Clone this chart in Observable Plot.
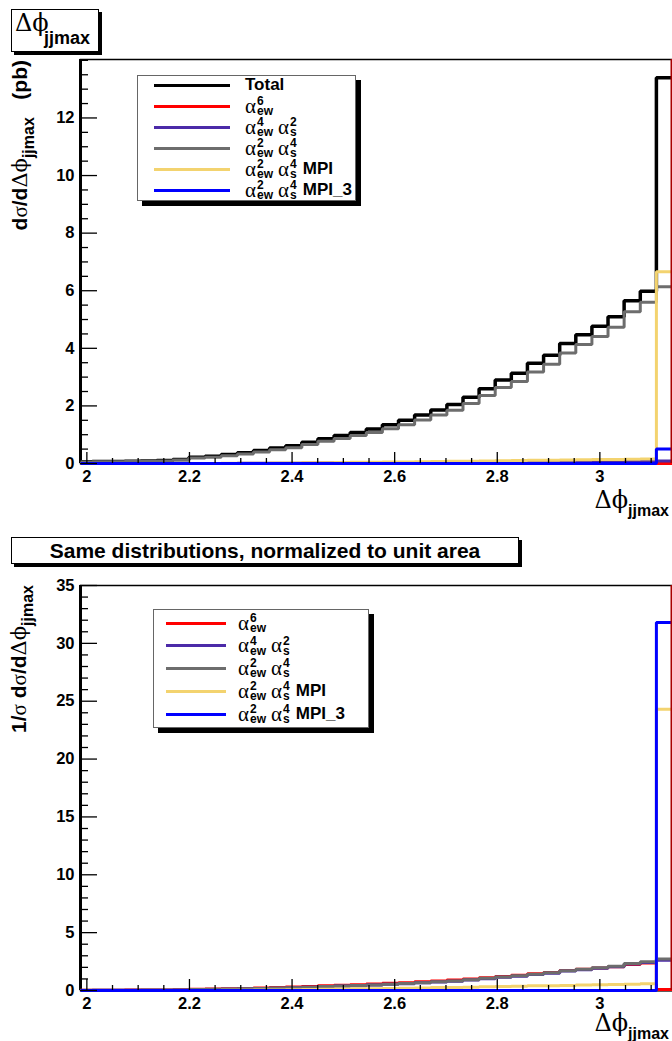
<!DOCTYPE html>
<html><head><meta charset="utf-8">
<script src="https://cdn.jsdelivr.net/npm/d3@7"></script>
<script src="https://cdn.jsdelivr.net/npm/@observablehq/plot@0.6"></script>
<style>
body{margin:0;background:#fff;}
#wrap{position:relative;width:672px;height:1041px;overflow:hidden;font-family:"Liberation Sans",Arial,sans-serif;font-weight:bold;color:#000;}
.abs{position:absolute;}
.box{position:absolute;background:#fff;border:1px solid #000;}
.g{font-family:"DejaVu Serif","Liberation Serif",serif;font-weight:normal;}
.ga{font-family:"Liberation Serif","DejaVu Serif",serif;font-weight:normal;}
.ss{display:inline-flex;flex-direction:column;align-items:flex-start;font-size:12px;line-height:10px;font-weight:bold;margin-left:1px;}
.row{position:absolute;display:flex;align-items:center;height:24px;white-space:nowrap;}
.sw{display:inline-block;height:3px;}
.alpha{font-size:21px;line-height:1;}
.ytitle{position:absolute;transform-origin:0 0;transform:rotate(-90deg);white-space:nowrap;text-align:right;}
</style></head>
<body><div id="wrap">
<div id="top" class="abs" style="left:0;top:0"></div>
<div id="bot" class="abs" style="left:0;top:530px"></div>
</div>
<script>
// ---- data ----
const xDomain = [1.9876, Math.PI];
const binEdges = [1.9792,2.0106,2.0420,2.0735,2.1049,2.1363,2.1677,2.1991,2.2305,2.2619,2.2934,2.3248,2.3562,2.3876,2.4190,2.4504,2.4819,2.5133,2.5447,2.5761,2.6075,2.6389,2.6704,2.7018,2.7332,2.7646,2.7960,2.8274,2.8588,2.8903,2.9217,2.9531,2.9845,3.0159,3.0473,3.0788,3.1102,3.1416];
const xTicks = [2, 2.2, 2.4, 2.6, 2.8, 3];
const xMinor = [2.05,2.1,2.15,2.25,2.3,2.35,2.45,2.5,2.55,2.65,2.7,2.75,2.85,2.9,2.95,3.05,3.1];
const topYTicks = [0,2,4,6,8,10,12];
const topYMinor = [0.5,1,1.5,2.5,3,3.5,4.5,5,5.5,6.5,7,7.5,8.5,9,9.5,10.5,11,11.5,12.5,13,13.5,14];
const botYTicks = [0,5,10,15,20,25,30,35];
const botYMinor = [1,2,3,4,6,7,8,9,11,12,13,14,16,17,18,19,21,22,23,24,26,27,28,29,31,32,33,34];

const seriesNames = ["Total","α_ew^6","α_ew^4 α_s^2","α_ew^2 α_s^4","α_ew^2 α_s^4 MPI","α_ew^2 α_s^4 MPI_3"];
const seriesColors = ["#000000","#ff0000","#4b2aa8","#6d6d6d","#f3d36f","#0000ff"];
const legendTerms = [[],[["6","ew"]],[["4","ew"],["2","s"]],[["2","ew"],["4","s"]],[["2","ew"],["4","s"]],[["2","ew"],["4","s"]]];
const legendSuffix = ["Total","","","","MPI","MPI_3"];

// top panel: dσ/dΔφ (pb)
const topTotal  = [0.06,0.07,0.07,0.08,0.09,0.10,0.14,0.22,0.25,0.31,0.37,0.45,0.54,0.62,0.74,0.86,0.97,1.08,1.20,1.35,1.50,1.68,1.86,2.05,2.30,2.60,2.90,3.13,3.48,3.76,4.17,4.47,4.77,5.10,5.65,5.98,13.40];
const topEw6    = [0,0,0,0,0,0,0,0.001,0.001,0.002,0.002,0.003,0.003,0.004,0.005,0.005,0.006,0.007,0.008,0.009,0.01,0.011,0.012,0.013,0.015,0.016,0.018,0.019,0.021,0.022,0.024,0.026,0.028,0.03,0.032,0.033,0.002];
const topEw4S2  = [0,0,0,0,0,0,0.001,0.002,0.003,0.004,0.005,0.006,0.008,0.01,0.012,0.014,0.016,0.018,0.02,0.023,0.026,0.029,0.032,0.035,0.039,0.043,0.047,0.05,0.055,0.06,0.064,0.068,0.072,0.077,0.082,0.086,0.09];
const topEw2S4  = [0.05,0.06,0.06,0.07,0.08,0.09,0.12,0.19,0.22,0.27,0.33,0.40,0.48,0.55,0.66,0.77,0.87,0.97,1.08,1.21,1.35,1.51,1.68,1.85,2.08,2.36,2.64,2.85,3.18,3.45,3.84,4.13,4.41,4.73,5.27,5.60,6.14];
const topMPI    = [0,0,0,0,0,0,0,0,0.003,0.005,0.008,0.01,0.015,0.02,0.025,0.03,0.035,0.04,0.045,0.05,0.055,0.06,0.07,0.075,0.08,0.09,0.095,0.10,0.11,0.115,0.12,0.13,0.135,0.14,0.15,0.16,6.66];
const topMPI3   = [0,0,0,0,0,0,0,0,0,0,0,0,0,0,0,0,0,0,0,0,0,0,0,0,0,0,0,0,0,0,0,0,0,0,0,0,0.5];

// bottom panel: normalized
const botEw6    = [0.02,0.03,0.03,0.04,0.05,0.05,0.07,0.10,0.12,0.15,0.18,0.22,0.26,0.30,0.35,0.40,0.45,0.50,0.56,0.62,0.68,0.75,0.82,0.90,0.99,1.10,1.21,1.31,1.44,1.56,1.72,1.83,1.94,2.06,2.25,2.38,0.08];
const botEw4S2  = [0.01,0.02,0.02,0.02,0.03,0.03,0.04,0.07,0.09,0.11,0.14,0.17,0.20,0.23,0.28,0.33,0.38,0.42,0.47,0.53,0.59,0.66,0.73,0.80,0.90,1.02,1.14,1.24,1.38,1.50,1.68,1.80,1.92,2.06,2.28,2.43,2.62];
const botEw2S4  = [0.02,0.03,0.03,0.03,0.04,0.04,0.05,0.08,0.10,0.12,0.15,0.18,0.21,0.24,0.29,0.34,0.39,0.43,0.48,0.54,0.60,0.67,0.75,0.82,0.92,1.05,1.17,1.27,1.41,1.53,1.71,1.84,1.96,2.10,2.34,2.49,2.73];
const botMPI    = [0,0,0,0,0,0,0,0,0.01,0.02,0.03,0.04,0.05,0.07,0.09,0.11,0.13,0.15,0.16,0.18,0.20,0.22,0.26,0.27,0.29,0.33,0.35,0.37,0.40,0.42,0.44,0.47,0.49,0.51,0.55,0.58,24.3];
const botMPI3   = [0,0,0,0,0,0,0,0,0,0,0,0,0,0,0,0,0,0,0,0,0,0,0,0,0,0,0,0,0,0,0,0,0,0,0,0,31.8];

// ---- drawing ----
function steps(values) {
  const pts = values.map((v, i) => ({x: Math.max(binEdges[i], xDomain[0]), y: v}));
  pts.push({x: binEdges[values.length], y: values[values.length - 1]});
  return pts;
}

function panel({series, yDomain, yMajor, yMinor, height, marginTop, marginBottom}) {
  const x0 = xDomain[0];
  const marks = [
    Plot.frame({stroke: "#000", strokeWidth: 1.5}),
    Plot.ruleY([0], {stroke: "#000", strokeWidth: 2}),
    Plot.ruleX([x0], {stroke: "#000", strokeWidth: 3})
  ];
  for (const s of series) {
    marks.push(Plot.line(steps(s.values), {x: "x", y: "y", curve: "step-after", stroke: s.color,
      strokeWidth: s.width, strokeLinejoin: "miter", strokeLinecap: "butt"}));
  }
  marks.push(
    Plot.ruleX([Math.PI], {stroke: "#a80000", strokeWidth: 1.6, dx: -1.2}),
    Plot.ruleX(xTicks, {x: d => d, y1: 0, y2: 0, insetTop: -11, stroke: "#000", strokeWidth: 1.3}),
    Plot.ruleX(xMinor, {x: d => d, y1: 0, y2: 0, insetTop: -5, stroke: "#000", strokeWidth: 1.3}),
    Plot.ruleY(yMajor, {y: d => d, x1: x0, x2: x0, insetRight: -17, stroke: "#000", strokeWidth: 1.3}),
    Plot.ruleY(yMinor, {y: d => d, x1: x0, x2: x0, insetRight: -8, stroke: "#000", strokeWidth: 1.3}),
    Plot.text(xTicks, {x: d => d, y: yDomain[0], text: d => String(d), lineAnchor: "top", dy: 7,
      fontSize: 16.5, fontWeight: "bold", fill: "#000"}),
    Plot.text(yMajor, {x: x0, y: d => d, text: d => String(d), textAnchor: "end", dx: -6,
      fontSize: 16.5, fontWeight: "bold", fill: "#000"})
  );
  return Plot.plot({
    width: 672, height, marginLeft: 80, marginRight: 0, marginTop, marginBottom,
    x: {domain: xDomain, axis: null},
    y: {domain: yDomain, axis: null},
    style: {fontFamily: "'Liberation Sans', Arial, sans-serif", background: "transparent", overflow: "visible"},
    marks
  });
}

const topSeries = [
  {values: topTotal, color: seriesColors[0], width: 3.5},
  {values: topEw6, color: seriesColors[1], width: 3},
  {values: topEw4S2, color: seriesColors[2], width: 3},
  {values: topEw2S4, color: seriesColors[3], width: 3},
  {values: topMPI, color: seriesColors[4], width: 3},
  {values: topMPI3, color: seriesColors[5], width: 3}
];
const botSeries = [
  {values: botEw6, color: seriesColors[1], width: 3},
  {values: botEw4S2, color: seriesColors[2], width: 3},
  {values: botEw2S4, color: seriesColors[3], width: 3},
  {values: botMPI, color: seriesColors[4], width: 3},
  {values: botMPI3, color: seriesColors[5], width: 3}
];

document.getElementById("top").append(panel({series: topSeries, yDomain: [0, 14.03],
  yMajor: topYTicks, yMinor: topYMinor, height: 530, marginTop: 59, marginBottom: 67}));
document.getElementById("bot").append(panel({series: botSeries, yDomain: [0, 35],
  yMajor: botYTicks, yMinor: botYMinor, height: 511, marginTop: 55, marginBottom: 51}));

// ---- overlays: titles, legends ----
const wrap = document.getElementById("wrap");
function add(html) { wrap.insertAdjacentHTML("beforeend", html); }

function termHTML(terms) {
  return terms.map(([sup, sub], i) =>
    `<span class="ga alpha" style="margin-left:${i ? 5 : 0}px">α</span><span class="ss"><span>${sup}</span><span>${sub}</span></span>`).join("");
}

function legend(left, top, width, height, rowY, lineX1, lineX2, textX, indices) {
  add(`<div class="box" style="left:${left}px;top:${top}px;width:${width}px;height:${height}px;border-color:#666;box-shadow:5px 5px 0 #000"></div>`);
  indices.forEach((k, r) => {
    const cy = rowY[r];
    add(`<div class="sw abs" style="left:${lineX1}px;top:${cy - 1.5}px;width:${lineX2 - lineX1}px;background:${seriesColors[k]}"></div>`);
    const suffix = legendSuffix[k] ? `<span style="font-size:17px;margin-left:${legendTerms[k].length ? 6 : 0}px">${legendSuffix[k]}</span>` : "";
    add(`<div class="row" style="left:${textX}px;top:${cy - 12}px">${termHTML(legendTerms[k])}${suffix}</div>`);
  });
}

// top panel title box
add(`<div class="box" style="left:11px;top:9px;width:86px;height:41px;box-shadow:3px 3px 0 #000">
  <span class="g abs" style="left:3px;top:1px;font-size:24px;line-height:1">Δϕ</span>
  <span class="abs" style="left:32px;top:19px;font-size:18px;line-height:1">jjmax</span></div>`);

// top y title
add(`<div class="ytitle" style="left:9px;top:360px;width:300px;font-size:21px;line-height:22px">d<span class="ga">σ</span>/d<span class="g">Δϕ</span><span style="font-size:16px;position:relative;top:7px">jjmax</span>&nbsp;&nbsp;&nbsp;(pb)</div>`);

// top x title
add(`<div class="abs" style="right:3px;top:486px;white-space:nowrap"><span class="g" style="font-size:24px">Δϕ</span><span style="font-size:16px;position:relative;top:8px">jjmax</span></div>`);

legend(137, 75, 217, 124, [85,106,127,148,169,190], 154, 230, 245, [0,1,2,3,4,5]);

// bottom panel title
add(`<div class="box" style="left:11px;top:537px;width:506px;height:25px;box-shadow:3px 3px 0 #000;text-align:center;font-size:21px;line-height:25px;white-space:nowrap">Same distributions, normalized to unit area</div>`);

// bottom y title
add(`<div class="ytitle" style="left:8px;top:885px;width:300px;font-size:21px;line-height:22px">1/<span class="ga">σ</span> d<span class="ga">σ</span>/d<span class="g">Δϕ</span><span style="font-size:16px;position:relative;top:7px">jjmax</span></div>`);

// bottom x title
add(`<div class="abs" style="right:3px;top:1009px;white-space:nowrap"><span class="g" style="font-size:24px">Δϕ</span><span style="font-size:16px;position:relative;top:8px">jjmax</span></div>`);

legend(153, 609, 214, 117, [623,645.5,668,691,714], 166, 226, 238, [1,2,3,4,5]);
</script>
</body></html>
